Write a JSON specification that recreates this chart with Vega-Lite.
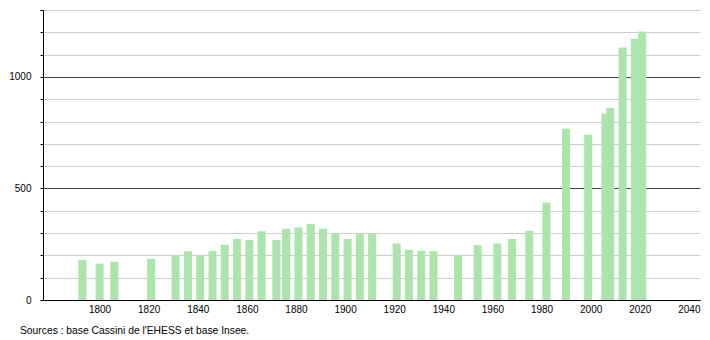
{
  "$schema": "https://vega.github.io/schema/vega-lite/v6.json",
  "width": 657,
  "height": 290,
  "autosize": {"type": "none"},
  "padding": {"left": 43, "top": 10, "right": 10, "bottom": 40},
  "background": "white",
  "config": {"view": {"stroke": null}, "font": "Liberation Sans"},
  "title": {
    "text": "Sources : base Cassini de l'EHESS et base Insee.",
    "orient": "bottom",
    "anchor": "start",
    "frame": "group",
    "dx": -23,
    "offset": 12,
    "fontSize": 10.3,
    "fontWeight": "normal",
    "color": "#000"
  },
  "data": {"values": [
    {"year": 1793, "pop": 180},
    {"year": 1800, "pop": 163},
    {"year": 1806, "pop": 171},
    {"year": 1821, "pop": 184},
    {"year": 1831, "pop": 202},
    {"year": 1836, "pop": 219},
    {"year": 1841, "pop": 198},
    {"year": 1846, "pop": 220},
    {"year": 1851, "pop": 247},
    {"year": 1856, "pop": 274},
    {"year": 1861, "pop": 269},
    {"year": 1866, "pop": 308},
    {"year": 1872, "pop": 269},
    {"year": 1876, "pop": 319},
    {"year": 1881, "pop": 325},
    {"year": 1886, "pop": 341},
    {"year": 1891, "pop": 319},
    {"year": 1896, "pop": 296},
    {"year": 1901, "pop": 274},
    {"year": 1906, "pop": 295},
    {"year": 1911, "pop": 295},
    {"year": 1921, "pop": 254},
    {"year": 1926, "pop": 225},
    {"year": 1931, "pop": 220},
    {"year": 1936, "pop": 219},
    {"year": 1946, "pop": 201},
    {"year": 1954, "pop": 247},
    {"year": 1962, "pop": 253},
    {"year": 1968, "pop": 274},
    {"year": 1975, "pop": 310},
    {"year": 1982, "pop": 436},
    {"year": 1990, "pop": 768},
    {"year": 1999, "pop": 741},
    {"year": 2006, "pop": 835},
    {"year": 2008, "pop": 861},
    {"year": 2013, "pop": 1132},
    {"year": 2018, "pop": 1171},
    {"year": 2021, "pop": 1204}
  ]},
  "mark": {"type": "bar", "size": 8, "color": "#ade3ad"},
  "encoding": {
    "x": {
      "field": "year",
      "type": "quantitative",
      "scale": {"domain": [1779, 2042.5], "nice": false, "zero": false},
      "axis": {
        "title": null,
        "values": [1800, 1820, 1840, 1860, 1880, 1900, 1920, 1940, 1960, 1980, 2000, 2020, 2040],
        "format": "d",
        "grid": false,
        "tickSize": 0,
        "labelPadding": 4,
        "labelFontSize": 10,
        "labelColor": "#000",
        "domainColor": "#000",
        "labelFlush": false
      }
    },
    "y": {
      "field": "pop",
      "type": "quantitative",
      "scale": {"domain": [0, 1300], "nice": false},
      "axis": {
        "title": null,
        "values": [0, 100, 200, 300, 400, 500, 600, 700, 800, 900, 1000, 1100, 1200, 1300],
        "format": "d",
        "labelExpr": "datum.value % 500 === 0 ? datum.label : ''",
        "grid": true,
        "gridColor": {"condition": {"test": "datum.value % 500 === 0", "value": "#444"}, "value": "#cccccc"},
        "gridWidth": 1,
        "tickSize": 3,
        "tickColor": "#000",
        "labelPadding": 9,
        "labelFontSize": 10,
        "labelColor": "#000",
        "domainColor": "#000"
      }
    }
  }
}
